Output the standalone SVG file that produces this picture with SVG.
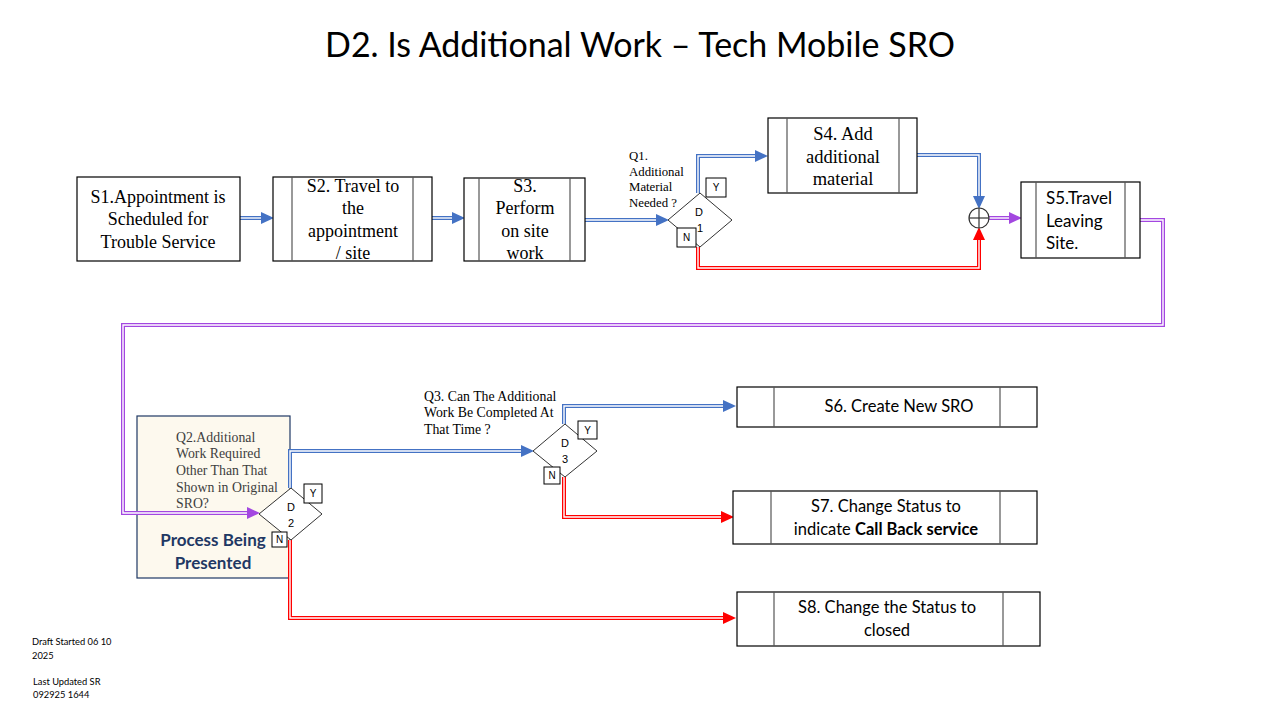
<svg xmlns="http://www.w3.org/2000/svg" width="1280" height="720" viewBox="0 0 1280 720">
<defs>
<style>
.box{fill:#fff;stroke:#000;stroke-width:1.2}
.inner{stroke:#555;stroke-width:1.2}
.ser{font-family:"Liberation Serif","Times New Roman",serif;fill:#000}
.san{font-family:Lato,"Liberation Sans",Arial,sans-serif;fill:#000}
.dia{fill:#fff;stroke:#333;stroke-width:1}
.tag{fill:#fff;stroke:#000;stroke-width:1}
.tagt{font-family:"Liberation Sans",Arial,sans-serif;font-size:10px;fill:#000;text-anchor:middle}
.dt{font-family:"Liberation Sans",Arial,sans-serif;font-size:11px;fill:#000;text-anchor:middle}
.cb{fill:none;stroke:#4472C4;stroke-width:4}
.cr{fill:none;stroke:#FF0000;stroke-width:4}
.cp{fill:none;stroke:#A347E0;stroke-width:4}
.w{fill:none;stroke:#fff;stroke-width:1.4}
</style>
<marker id="ab" markerUnits="userSpaceOnUse" markerWidth="14" markerHeight="12" refX="0" refY="6" orient="auto" overflow="visible"><path d="M0,0 L13,6 L0,12 z" fill="#4472C4"/></marker>
<marker id="ar" markerUnits="userSpaceOnUse" markerWidth="14" markerHeight="12" refX="0" refY="6" orient="auto" overflow="visible"><path d="M0,0 L13,6 L0,12 z" fill="#FF0000"/></marker>
<marker id="ap" markerUnits="userSpaceOnUse" markerWidth="14" markerHeight="12" refX="0" refY="6" orient="auto" overflow="visible"><path d="M0,0 L13,6 L0,12 z" fill="#A347E0"/></marker>
</defs>
<rect width="1280" height="720" fill="#fff"/>
<text x="640" y="57" text-anchor="middle" class="san" font-size="34">D2. Is Additional Work – Tech Mobile SRO</text>

<g id="process-being-presented">
<rect x="137" y="416" width="153" height="162" fill="#FDF9EE" stroke="#1F3864" stroke-width="1.2"/>
<text x="213" y="546" text-anchor="middle" font-family="Lato,'Liberation Sans',sans-serif" font-weight="bold" font-size="17" fill="#1F3864">Process Being</text>
<text x="213" y="569" text-anchor="middle" font-family="Lato,'Liberation Sans',sans-serif" font-weight="bold" font-size="17" fill="#1F3864">Presented</text>
<g class="ser" font-size="13.8" style="fill:#404040">
<text x="176" y="442">Q2.Additional</text>
<text x="176" y="458">Work Required</text>
<text x="176" y="475">Other Than That</text>
<text x="176" y="492">Shown in Original</text>
<text x="176" y="508">SRO?</text>
</g>
</g>

<g id="connectors">
<path class="cb" d="M240,218 H261" marker-end="url(#ab)"/><path class="w" d="M240,218 H261"/>
<path class="cb" d="M432,218 H452" marker-end="url(#ab)"/><path class="w" d="M432,218 H452"/>
<path class="cb" d="M585,220 H656" marker-end="url(#ab)"/><path class="w" d="M585,220 H656"/>
<path class="cb" d="M698,193 V156 H755" marker-end="url(#ab)"/><path class="w" d="M698,193 V156 H755"/>
<path class="cb" d="M917,155 H979 V196" marker-end="url(#ab)"/><path class="w" d="M917,155 H979 V196"/>
<path class="cr" d="M698,247 V268 H979 V240" marker-end="url(#ar)"/><path class="w" d="M698,247 V268 H979 V240"/>
<path class="cp" d="M989,218 H1009" marker-end="url(#ap)"/><path class="w" d="M989,218 H1009"/>
<path class="cp" d="M1140,220 H1163 V325 H123 V513 H247" marker-end="url(#ap)"/><path class="w" d="M1140,220 H1163 V325 H123 V513 H247"/>
<path class="cb" d="M290,488 V451 H521" marker-end="url(#ab)"/><path class="w" d="M290,488 V451 H521"/>
<path class="cr" d="M290,540 V618 H723" marker-end="url(#ar)"/><path class="w" d="M290,540 V618 H723"/>
<path class="cb" d="M564,424 V406 H723" marker-end="url(#ab)"/><path class="w" d="M564,424 V406 H723"/>
<path class="cr" d="M564,477 V517 H721" marker-end="url(#ar)"/><path class="w" d="M564,477 V517 H721"/>
</g>

<g id="S1">
<rect class="box" x="77" y="177" width="163" height="84"/>
<g class="ser" font-size="18" text-anchor="middle">
<text x="158" y="203">S1.Appointment is</text>
<text x="158" y="225">Scheduled for</text>
<text x="158" y="248">Trouble Service</text>
</g>
</g>

<g id="S2">
<rect class="box" x="273" y="177" width="159" height="84"/>
<line class="inner" x1="292" y1="177" x2="292" y2="261"/><line class="inner" x1="413" y1="177" x2="413" y2="261"/>
<g class="ser" font-size="18" text-anchor="middle">
<text x="353" y="192">S2. Travel to</text>
<text x="353" y="214">the</text>
<text x="353" y="237">appointment</text>
<text x="353" y="259">/ site</text>
</g>
</g>

<g id="S3">
<rect class="box" x="464" y="178" width="121" height="83"/>
<line class="inner" x1="479" y1="178" x2="479" y2="261"/><line class="inner" x1="570" y1="178" x2="570" y2="261"/>
<g class="ser" font-size="18" text-anchor="middle">
<text x="525" y="192">S3.</text>
<text x="525" y="214">Perform</text>
<text x="525" y="237">on site</text>
<text x="525" y="259">work</text>
</g>
</g>

<g id="D1">
<g class="ser" font-size="12.8">
<text x="629" y="160">Q1.</text>
<text x="629" y="176">Additional</text>
<text x="629" y="191">Material</text>
<text x="629" y="207">Needed ?</text>
</g>
<path class="dia" d="M700,193 L732,220 L700,247 L668,220 Z"/>
<rect class="tag" x="706" y="178" width="20" height="19"/><text class="tagt" x="716" y="191">Y</text>
<rect class="tag" x="677" y="228" width="19" height="19"/><text class="tagt" x="686.5" y="241">N</text>
<text class="dt" x="699" y="216">D</text>
<text class="dt" x="700" y="232">1</text>
</g>

<g id="S4">
<rect class="box" x="768" y="118" width="149" height="75"/>
<line class="inner" x1="787" y1="118" x2="787" y2="193"/><line class="inner" x1="899" y1="118" x2="899" y2="193"/>
<g class="ser" font-size="18.5" text-anchor="middle">
<text x="843" y="140">S4. Add</text>
<text x="843" y="163">additional</text>
<text x="843" y="185">material</text>
</g>
</g>

<g id="junction">
<circle cx="979" cy="218" r="10" fill="#fff" stroke="#333" stroke-width="1.2"/>
<line x1="969" y1="218" x2="989" y2="218" stroke="#333" stroke-width="1.2"/>
<line x1="979" y1="208" x2="979" y2="228" stroke="#333" stroke-width="1.2"/>
</g>

<g id="S5">
<rect class="box" x="1021" y="182" width="119" height="76"/>
<line class="inner" x1="1036" y1="182" x2="1036" y2="258"/><line class="inner" x1="1125" y1="182" x2="1125" y2="258"/>
<g class="san" font-size="17">
<text x="1046" y="204">S5.Travel</text>
<text x="1046" y="227">Leaving</text>
<text x="1046" y="249">Site.</text>
</g>
</g>

<g id="D2">
<path class="dia" d="M291,488 L322,514 L291,540 L259,514 Z"/>
<rect class="tag" x="304" y="484" width="18" height="19"/><text class="tagt" x="313" y="497">Y</text>
<rect class="tag" x="272" y="532" width="15" height="15" stroke="#555"/><text class="tagt" x="279.5" y="543">N</text>
<text class="dt" x="291" y="511">D</text>
<text class="dt" x="291" y="527">2</text>
</g>

<g id="D3">
<g class="ser" font-size="13.8">
<text x="424" y="401">Q3. Can The Additional</text>
<text x="424" y="417">Work Be Completed At</text>
<text x="424" y="434">That Time ?</text>
</g>
<path class="dia" d="M565,424 L597,451 L565,477 L533,451 Z"/>
<rect class="tag" x="578" y="421" width="19" height="18"/><text class="tagt" x="587.5" y="434">Y</text>
<rect class="tag" x="544" y="467" width="16" height="17"/><text class="tagt" x="552" y="479">N</text>
<text class="dt" x="565" y="447">D</text>
<text class="dt" x="565" y="463">3</text>
</g>

<g id="S6">
<rect class="box" x="737" y="387" width="300" height="40"/>
<line class="inner" x1="774" y1="387" x2="774" y2="427"/><line class="inner" x1="1000" y1="387" x2="1000" y2="427"/>
<text class="san" x="899" y="412" font-size="16.5" text-anchor="middle">S6. Create New SRO</text>
</g>

<g id="S7">
<rect class="box" x="733" y="491" width="304" height="53"/>
<line class="inner" x1="771" y1="491" x2="771" y2="544"/><line class="inner" x1="1000" y1="491" x2="1000" y2="544"/>
<text class="san" x="886" y="512" font-size="16.5" text-anchor="middle">S7. Change Status to</text>
<text class="san" x="886" y="535" font-size="16.5" text-anchor="middle">indicate <tspan font-weight="bold">Call Back service</tspan></text>
</g>

<g id="S8">
<rect class="box" x="737" y="592" width="303" height="54"/>
<line class="inner" x1="774" y1="592" x2="774" y2="646"/><line class="inner" x1="1003" y1="592" x2="1003" y2="646"/>
<text class="san" x="887" y="613" font-size="16.5" text-anchor="middle">S8. Change the Status to</text>
<text class="san" x="887" y="636" font-size="16.5" text-anchor="middle">closed</text>
</g>

<g id="footer" class="san" font-size="9.3">
<text x="32" y="645">Draft Started 06 10</text>
<text x="32" y="659">2025</text>
<text x="33" y="685">Last Updated SR</text>
<text x="33" y="698">092925 1644</text>
</g>
</svg>
